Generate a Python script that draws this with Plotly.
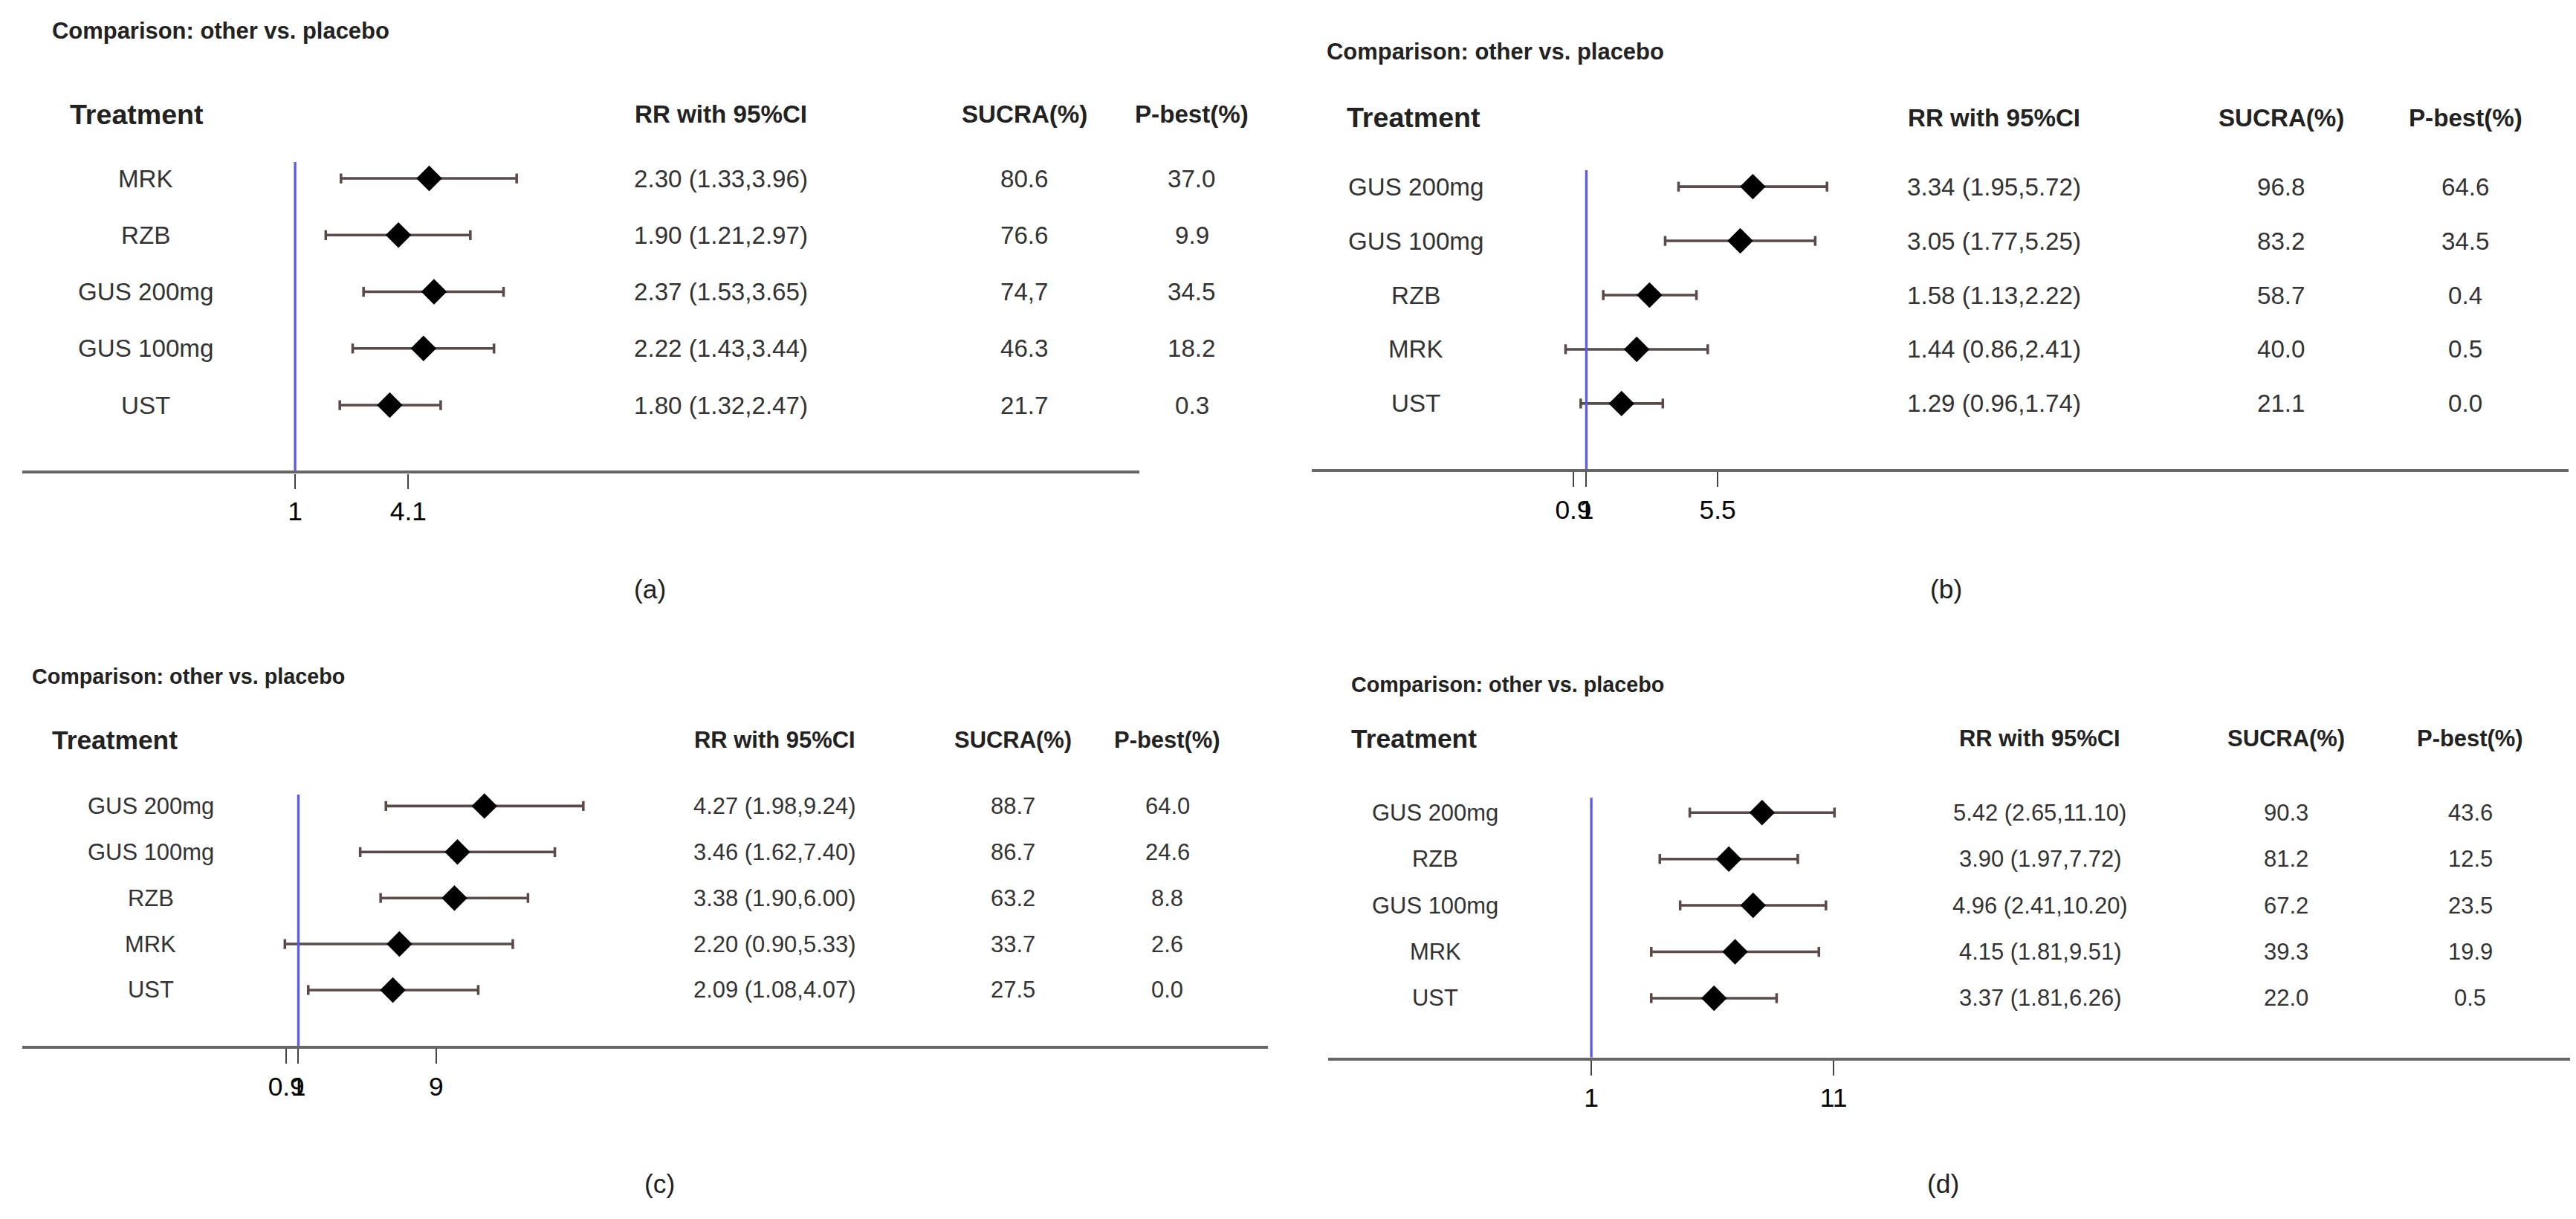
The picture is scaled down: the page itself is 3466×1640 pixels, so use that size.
import numpy as np
import plotly.graph_objects as go

# Reference sketch measured at 1568x742, scaled up to the 3466x1640 output
W, H = 3466, 1640
S = W / 1568

# ---- data ----
treat_a = ["MRK", "RZB", "GUS 200mg", "GUS 100mg", "UST"]
rr_a = [2.30, 1.90, 2.37, 2.22, 1.80]
lo_a = [1.33, 1.21, 1.53, 1.43, 1.32]
hi_a = [3.96, 2.97, 3.65, 3.44, 2.47]
sucra_a = ["80.6", "76.6", "74,7", "46.3", "21.7"]
pbest_a = ["37.0", "9.9", "34.5", "18.2", "0.3"]

treat_b = ["GUS 200mg", "GUS 100mg", "RZB", "MRK", "UST"]
rr_b = [3.34, 3.05, 1.58, 1.44, 1.29]
lo_b = [1.95, 1.77, 1.13, 0.86, 0.96]
hi_b = [5.72, 5.25, 2.22, 2.41, 1.74]
sucra_b = ["96.8", "83.2", "58.7", "40.0", "21.1"]
pbest_b = ["64.6", "34.5", "0.4", "0.5", "0.0"]

treat_c = ["GUS 200mg", "GUS 100mg", "RZB", "MRK", "UST"]
rr_c = [4.27, 3.46, 3.38, 2.20, 2.09]
lo_c = [1.98, 1.62, 1.90, 0.90, 1.08]
hi_c = [9.24, 7.40, 6.00, 5.33, 4.07]
sucra_c = ["88.7", "86.7", "63.2", "33.7", "27.5"]
pbest_c = ["64.0", "24.6", "8.8", "2.6", "0.0"]

treat_d = ["GUS 200mg", "RZB", "GUS 100mg", "MRK", "UST"]
rr_d = [5.42, 3.90, 4.96, 4.15, 3.37]
lo_d = [2.65, 1.97, 2.41, 1.81, 1.81]
hi_d = [11.10, 7.72, 10.20, 9.51, 6.26]
sucra_d = ["90.3", "81.2", "67.2", "39.3", "22.0"]
pbest_d = ["43.6", "12.5", "23.5", "19.9", "0.5"]

ticks_a, ticktext_a = [1, 2.02], ["1", "4.1"]
ticks_b, ticktext_b = [0.91, 1, 2.59], ["0.9", "1", "5.5"]
ticks_c, ticktext_c = [0.91, 1, 2.93], ["0.9", "1", "9"]
ticks_d, ticktext_d = [1, 11], ["1", "11"]

# ---- panel geometry (sketch pixels) ----
panels = [
    dict(t=treat_a, rr=rr_a, lo=lo_a, hi=hi_a, su=sucra_a, pb=pbest_a, tv=ticks_a, tt=ticktext_a,
         x0=10, x1=690, one=176, pxln=98, axy=283, top=90, row0=105, step=34.5, blue_top=95,
         title=(27, 15), head=66, treat_x=38, name_x=85, cols=(435, 620, 722), tick_y=300,
         lab="(a)", lab_xy=(392, 355), fs=15),
    dict(t=treat_b, rr=rr_b, lo=lo_b, hi=hi_b, su=sucra_b, pb=pbest_b, tv=ticks_b, tt=ticktext_b,
         x0=795, x1=1560, one=962, pxln=84, axy=282, top=95, row0=110, step=33, blue_top=100,
         title=(803, 28), head=68, treat_x=815, name_x=858, cols=(1210, 1385, 1497), tick_y=300,
         lab="(b)", lab_xy=(1181, 355), fs=15),
    dict(t=treat_c, rr=rr_c, lo=lo_c, hi=hi_c, su=sucra_c, pb=pbest_c, tv=ticks_c, tt=ticktext_c,
         x0=10, x1=768, one=178, pxln=78, axy=633, top=470, row0=487, step=28, blue_top=480,
         title=(15, 408), head=447, treat_x=27, name_x=88, cols=(468, 613, 707), tick_y=660,
         lab="(c)", lab_xy=(398, 717), fs=14),
    dict(t=treat_d, rr=rr_d, lo=lo_d, hi=hi_d, su=sucra_d, pb=pbest_d, tv=ticks_d, tt=ticktext_d,
         x0=805, x1=1562, one=965, pxln=61.5, axy=640, top=475, row0=491, step=28.25, blue_top=482,
         title=(818, 413), head=446, treat_x=818, name_x=870, cols=(1238, 1388, 1500), tick_y=660,
         lab="(d)", lab_xy=(1179, 717), fs=14),
]

PW, PH = 1568, 742
def px(v): return v / PW
def py(v): return 1 - v / PH

FONT = "Liberation Sans, Arial, sans-serif"
fig = go.Figure()
ann, shapes = [], []

for i, p in enumerate(panels, start=1):
    xa, ya = f"x{i if i > 1 else ''}", f"y{i if i > 1 else ''}"
    xk, yk = f"xaxis{i if i > 1 else ''}", f"yaxis{i if i > 1 else ''}"
    rows = list(range(len(p["t"])))
    rr, lo, hi = np.array(p["rr"]), np.array(p["lo"]), np.array(p["hi"])
    fig.add_trace(go.Scatter(
        x=rr, y=rows, mode="markers", xaxis=xa, yaxis=ya, showlegend=False,
        marker=dict(symbol="diamond", size=12 * S, color="black"),
        error_x=dict(type="data", symmetric=False, array=hi - rr, arrayminus=rr - lo,
                     color="#5a4a4a", thickness=1.6 * S, width=3 * S)))
    lg = p["pxln"] * np.log(10)
    rng = [(p["x0"] - p["one"]) / lg, (p["x1"] - p["one"]) / lg]
    ybot = (p["axy"] - p["row0"]) / p["step"]
    ytop = (p["top"] - p["row0"]) / p["step"]
    fig.update_layout({
        xk: dict(type="log", domain=[px(p["x0"]), px(p["x1"])], range=rng, anchor=ya,
                 showgrid=False, zeroline=False, showline=True, linecolor="#666", linewidth=2 * S,
                 ticks="outside", ticklen=9 * S, tickwidth=1.5, tickcolor="#444",
                 tickvals=p["tv"], ticktext=p["tt"], tickangle=0,
                 tickfont=dict(family=FONT, size=16 * S, color="black")),
        yk: dict(domain=[py(p["axy"]), py(p["top"])], range=[ybot, ytop], anchor=xa,
                 visible=False),
    })
    # placebo reference line at RR = 1
    bx = (p["one"] - p["x0"]) / (p["x1"] - p["x0"])
    shapes.append(dict(type="line", xref=f"{xa} domain", yref=f"{ya} domain", x0=bx, x1=bx,
                       y0=0, y1=(p["axy"] - p["blue_top"]) / (p["axy"] - p["top"]),
                       line=dict(color="#5a5af0", width=1.5 * S)))
    f = p["fs"] * S
    ann.append(dict(text="<b>Comparison: other vs. placebo</b>", xref="paper", yref="paper",
                    x=px(p["title"][0]), y=py(p["title"][1]), xanchor="left", yanchor="middle",
                    showarrow=False, font=dict(family=FONT, size=(p["fs"] - 1) * S, color="#222")))
    ann.append(dict(text="<b>Treatment</b>", xref="paper", yref="paper", x=px(p["treat_x"]),
                    y=py(p["head"]), xanchor="left", yanchor="middle", showarrow=False,
                    font=dict(family=FONT, size=f + 2 * S, color="#222")))
    for hx, ht in zip(p["cols"], ["RR with 95%CI", "SUCRA(%)", "P-best(%)"]):
        ann.append(dict(text=f"<b>{ht}</b>", xref="paper", yref="paper", x=px(hx), y=py(p["head"]),
                        xanchor="center", yanchor="middle", showarrow=False,
                        font=dict(family=FONT, size=f, color="#222")))
    for r in rows:
        yv = py(p["row0"] + r * p["step"])
        ci = f"{p['rr'][r]:.2f} ({p['lo'][r]:.2f},{p['hi'][r]:.2f})"
        for tx, txt in [(p["name_x"], p["t"][r]), (p["cols"][0], ci),
                        (p["cols"][1], p["su"][r]), (p["cols"][2], p["pb"][r])]:
            ann.append(dict(text=txt, xref="paper", yref="paper", x=px(tx), y=yv,
                            xanchor="center", yanchor="middle", showarrow=False,
                            font=dict(family=FONT, size=f, color="#333")))
    ann.append(dict(text=p["lab"], xref="paper", yref="paper", x=px(p["lab_xy"][0]),
                    y=py(p["lab_xy"][1]), xanchor="center", yanchor="middle", showarrow=False,
                    font=dict(family=FONT, size=16 * S, color="#222")))

fig.update_layout(width=W, height=H, margin=dict(l=0, r=0, t=0, b=0),
                  plot_bgcolor="white", paper_bgcolor="white",
                  annotations=ann, shapes=shapes)
fig.write_html("out.html")
